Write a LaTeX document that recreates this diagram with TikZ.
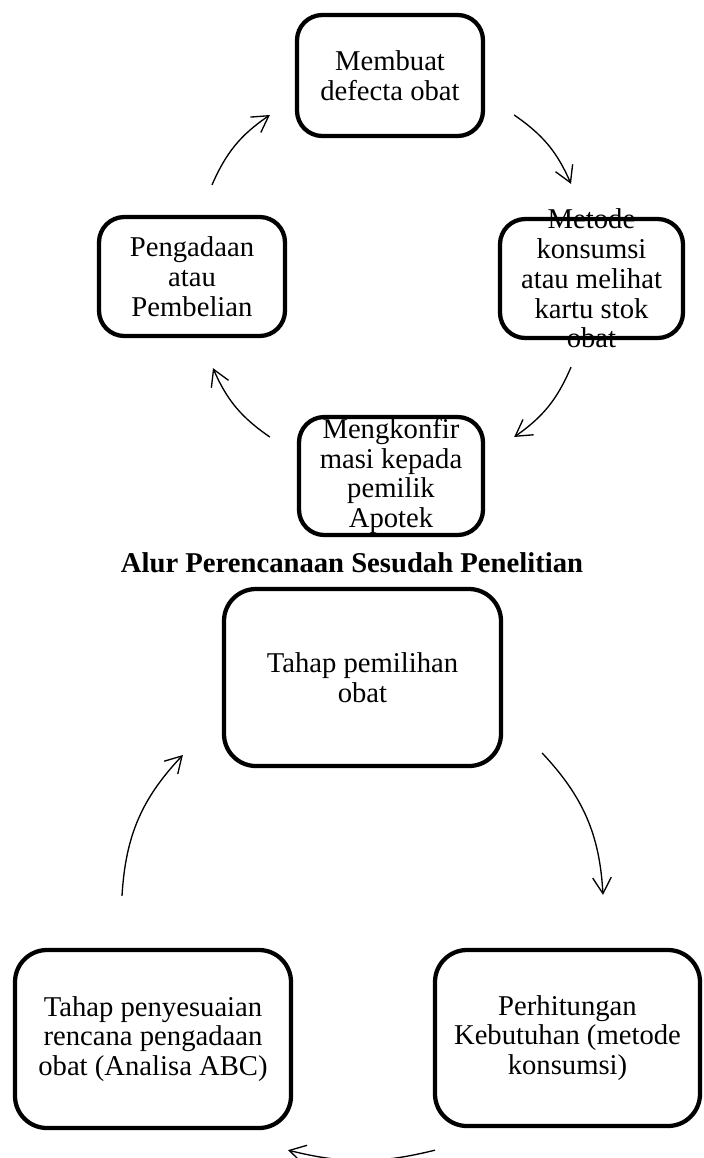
\documentclass[tikz,border=0pt]{standalone}
\usepackage{fontspec}
\setmainfont{Liberation Serif}
\usetikzlibrary{arrows.meta}
\newlength\pxu
\setlength\pxu{0.75pt}

\begin{document}
\begin{tikzpicture}[
      x=0.75pt, y=0.75pt,
      font=\fontsize{21.5}{22.3}\selectfont,
      kotak/.style={draw, line width=3.2pt, rounded corners=19pt, align=center, inner sep=2pt},
      kotakbesar/.style={kotak, rounded corners=24pt},
      panah/.style={-{Straight Barb[length=12pt,width=14pt]}, line width=1pt, bend left=16}]
    \useasboundingbox (0,0) rectangle (704,-1158);
    % siklus atas
    \node[kotak, minimum width=186\pxu, minimum height=121\pxu] (def) at (390,-75.5) {Membuat\\defecta obat};
    \node[kotak, minimum width=183\pxu, minimum height=119\pxu, inner ysep=-8pt] (met) at (591.5,-278.5) {Metode\\konsumsi\\atau melihat\\kartu stok\\obat};
    \node[kotak, minimum width=184\pxu, minimum height=118\pxu, inner ysep=0pt] (konf) at (391,-476) {Mengkonfir\\masi kepada\\pemilik\\Apotek};
    \node[kotak, minimum width=186\pxu, minimum height=119\pxu] (peng) at (192,-276.5) {Pengadaan\\atau\\Pembelian};
    \draw[panah] ([shift={(20,30)}]peng.north) to ([shift={(-25,-39.5)}]def.west);
    \draw[panah] ([shift={(29,-39.5)}]def.east) to ([shift={(-20.5,33)}]met.north);
    \draw[panah] ([shift={(-20.5,-27)}]met.south) to ([shift={(29,39)}]konf.east);
    \draw[panah] ([shift={(-27,39)}]konf.west) to ([shift={(21,-30)}]peng.south);
    % judul
    \node[font=\fontsize{21.5}{22.3}\selectfont\bfseries] (judul) at (352,-563) {Alur Perencanaan Sesudah Penelitian};
    % siklus bawah
    \node[kotakbesar, minimum width=277\pxu, minimum height=177\pxu] (pil) at (362.5,-677.5) {Tahap pemilihan\\obat};
    \node[kotakbesar, minimum width=265\pxu, minimum height=176\pxu] (hitung) at (567.5,-1038) {Perhitungan\\Kebutuhan (metode\\konsumsi)};
    \node[kotakbesar, minimum width=276\pxu, minimum height=178\pxu] (sesuai) at (153,-1039) {Tahap penyesuaian\\rencana pengadaan\\obat (Analisa ABC)};
    \draw[panah, bend left=20] ([shift={(-31,52)}]sesuai.north) to ([shift={(-39,-77.5)}]pil.west);
    \draw[panah, bend left=20] ([shift={(39,-75.5)}]pil.east) to ([shift={(35.5,53)}]hitung.north);
    \draw[panah, bend left=14] ([shift={(-132.5,-22)}]hitung.south) to ([shift={(135,-20)}]sesuai.south);
  \end{tikzpicture}
\end{document}
